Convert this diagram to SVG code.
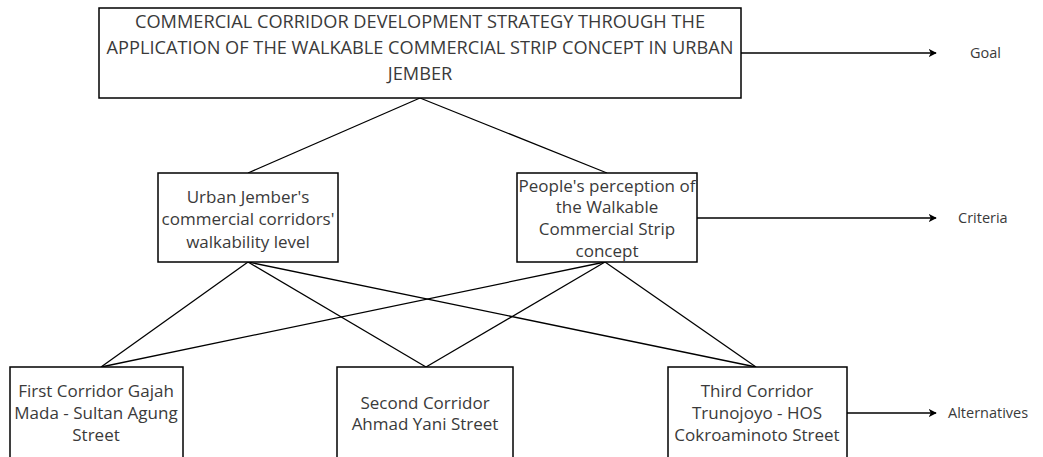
<svg xmlns="http://www.w3.org/2000/svg" width="1043" height="457" viewBox="0 0 1043 457">
<defs>
<marker id="arr" viewBox="0 0 10 10" refX="9" refY="5" markerWidth="8" markerHeight="8" markerUnits="userSpaceOnUse" orient="auto">
<path d="M0,0 L10,5 L0,10 L2.5,5 Z" fill="#000"/>
</marker>
<style>
.box{fill:#fff;stroke:#000;stroke-width:1.5}
.t{font-family:"Open Sans","Noto Sans",sans-serif;font-size:17px;fill:#3a3a3a;text-anchor:middle}
.tc{font-size:18.2px}
.l{font-family:"Open Sans","Noto Sans",sans-serif;font-size:14.5px;fill:#3a3a3a}
.c{stroke:#000;stroke-width:1.3;fill:none}
.a{stroke:#000;stroke-width:1.5;fill:none;marker-end:url(#arr)}
</style>
</defs>
<rect width="1043" height="457" fill="#fff"/>
<g id="connectors">
<line class="c" x1="420" y1="98" x2="248" y2="173"/>
<line class="c" x1="420" y1="98" x2="607" y2="173"/>
<line class="c" x1="248" y1="262" x2="101" y2="367"/>
<line class="c" x1="248" y1="262" x2="426" y2="367"/>
<line class="c" x1="248" y1="262" x2="756" y2="367"/>
<line class="c" x1="605" y1="262" x2="101" y2="367"/>
<line class="c" x1="605" y1="262" x2="426" y2="367"/>
<line class="c" x1="605" y1="262" x2="756" y2="367"/>
<line class="a" x1="741" y1="53" x2="936" y2="53"/>
<line class="a" x1="697" y1="218" x2="936" y2="218"/>
<line class="a" x1="847" y1="413" x2="936" y2="413"/>
</g>
<g id="goal">
<rect class="box" x="99" y="8" width="642" height="90"/>
<text class="t tc" x="420" y="28">COMMERCIAL CORRIDOR DEVELOPMENT STRATEGY THROUGH THE</text>
<text class="t tc" x="420" y="54">APPLICATION OF THE WALKABLE COMMERCIAL STRIP CONCEPT IN URBAN</text>
<text class="t tc" x="420" y="80">JEMBER</text>
</g>
<g id="criteria1">
<rect class="box" x="158" y="173" width="180" height="89"/>
<text class="t" x="248" y="203">Urban Jember's</text>
<text class="t" x="248" y="225">commercial corridors'</text>
<text class="t" x="248" y="248">walkability level</text>
</g>
<g id="criteria2">
<rect class="box" x="517" y="173" width="180" height="89"/>
<text class="t" x="607" y="192">People's perception of</text>
<text class="t" x="607" y="213">the Walkable</text>
<text class="t" x="607" y="235">Commercial Strip</text>
<text class="t" x="607" y="257">concept</text>
</g>
<g id="alt1">
<rect class="box" x="10" y="367" width="173" height="95"/>
<text class="t" x="96" y="397">First Corridor Gajah</text>
<text class="t" x="96" y="419">Mada - Sultan Agung</text>
<text class="t" x="96" y="441">Street</text>
</g>
<g id="alt2">
<rect class="box" x="337" y="367" width="176" height="95"/>
<text class="t" x="425" y="409">Second Corridor</text>
<text class="t" x="425" y="430">Ahmad Yani Street</text>
</g>
<g id="alt3">
<rect class="box" x="668" y="367" width="179" height="95"/>
<text class="t" x="757" y="397">Third Corridor</text>
<text class="t" x="757" y="419">Trunojoyo - HOS</text>
<text class="t" x="757" y="441">Cokroaminoto Street</text>
</g>
<g id="labels">
<text class="l" x="970" y="58">Goal</text>
<text class="l" x="958" y="223">Criteria</text>
<text class="l" x="948" y="418">Alternatives</text>
</g>
</svg>
